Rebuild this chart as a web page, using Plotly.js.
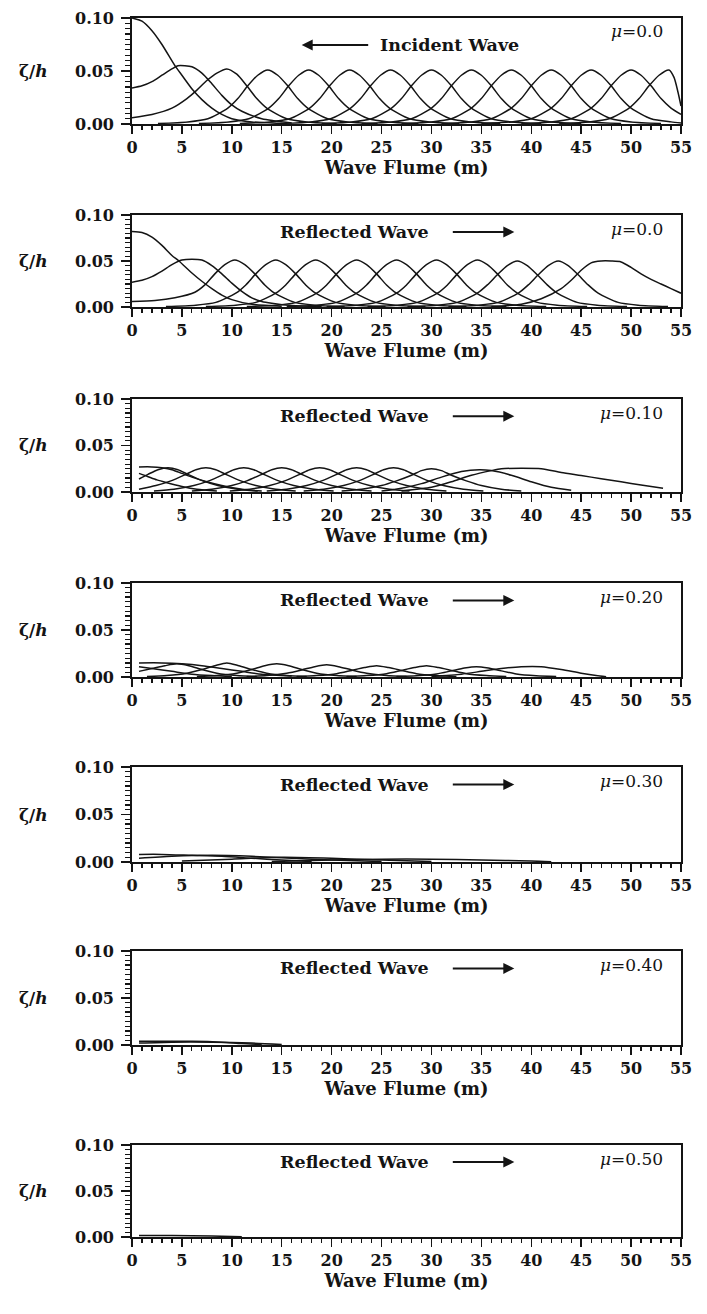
<!DOCTYPE html>
<html>
<head>
<meta charset="utf-8">
<script src="https://cdn.plot.ly/plotly-3.0.1.min.js"></script>
<style>html,body{margin:0;padding:0;background:#fff;}#chart{width:707px;height:1314px;}</style>
</head>
<body>
<div id="chart"></div>
<script>
// ---------- DATA ----------
const xTickValues = [0,5,10,15,20,25,30,35,40,45,50,55];
const yTickLabels = ['0.00','0.05','0.10'];
const muLabels = ['0.0','0.0','0.10','0.20','0.30','0.40','0.50'];
const waveLabels = ['Incident Wave','Reflected Wave','Reflected Wave','Reflected Wave','Reflected Wave','Reflected Wave','Reflected Wave'];

// each curve: [x values (m), zeta/h values]
const incidentMu00 = [
 [[0,1,2,3,4.3,5,6.1,7,8,9,10,12,15],[.100,.097,.088,.075,.055,.046,.032,.023,.015,.009,.005,.002,.0005]],
 [[0,1,2,3,4,4.6,5.3,6,7,8,9,10,11,13,16],[.034,.036,.040,.046,.052,.055,.055,.054,.048,.038,.027,.018,.012,.005,.001]],
 [[0,2,4,5.5,6.5,7.5,8.5,9.5,10.5,11.5,12.5,13.5,15.5,17.5,20.5],[.006,.009,.015,.024,.032,.041,.048,.052,.047,.036,.024,.015,.005,.002,.0005]],
 [[2.6,5.6,7.6,9.6,10.6,11.6,12.6,13.6,14.6,15.6,16.6,17.6,19.6,21.6,24.6],[.0005,.002,.005,.015,.024,.036,.046,.051,.046,.036,.024,.015,.005,.002,.0005]],
 [[6.7,9.7,11.7,13.7,14.7,15.7,16.7,17.7,18.7,19.7,20.7,21.7,23.7,25.7,28.7],[.0005,.002,.005,.015,.024,.036,.046,.051,.046,.036,.024,.015,.005,.002,.0005]],
 [[10.8,13.8,15.8,17.8,18.8,19.8,20.8,21.8,22.8,23.8,24.8,25.8,27.8,29.8,32.8],[.0005,.002,.005,.015,.024,.036,.046,.051,.046,.036,.024,.015,.005,.002,.0005]],
 [[14.9,17.9,19.9,21.9,22.9,23.9,24.9,25.9,26.9,27.9,28.9,29.9,31.9,33.9,36.9],[.0005,.002,.005,.015,.024,.036,.046,.051,.046,.036,.024,.015,.005,.002,.0005]],
 [[19,22,24,26,27,28,29,30,31,32,33,34,36,38,41],[.0005,.002,.005,.015,.024,.036,.046,.051,.046,.036,.024,.015,.005,.002,.0005]],
 [[23,26,28,30,31,32,33,34,35,36,37,38,40,42,45],[.0005,.002,.005,.015,.024,.036,.046,.051,.046,.036,.024,.015,.005,.002,.0005]],
 [[27,30,32,34,35,36,37,38,39,40,41,42,44,46,49],[.0005,.002,.005,.015,.024,.036,.046,.051,.046,.036,.024,.015,.005,.002,.0005]],
 [[31,34,36,38,39,40,41,42,43,44,45,46,48,50,53],[.0005,.002,.005,.015,.024,.036,.046,.051,.046,.036,.024,.015,.005,.002,.0005]],
 [[35,38,40,42,43,44,45,46,47,48,49,50,52,54,55],[.0005,.002,.005,.015,.024,.036,.046,.051,.046,.036,.024,.015,.005,.002,.001]],
 [[39,42,44,46,47,48,49,50,51,52,53,54,55],[.0005,.002,.005,.015,.024,.036,.046,.051,.046,.036,.024,.015,.009]],
 [[42.8,45.8,47.8,49.8,50.8,51.8,52.8,53.8,54.3,54.7,55],[.0005,.002,.005,.015,.024,.036,.046,.051,.044,.030,.017]]
];

const reflectedMu00 = [
 [[0,1,2,3,4,4.7,6,7,8,9,10,12,15],[.082,.081,.076,.067,.056,.050,.037,.028,.020,.013,.008,.003,.0008]],
 [[0,1,2,3,4,5,6,7,8,9,10,11,12,13,14,16,19],[.027,.029,.033,.039,.046,.051,.052,.051,.045,.036,.026,.017,.010,.006,.004,.0015,.0005]],
 [[0,2.3,4.3,6.3,7.3,8.3,9.3,10.3,11.3,12.3,13.3,14.3,16.3,18.3,21.3],[.006,.007,.010,.016,.024,.036,.046,.051,.046,.036,.024,.015,.005,.002,.0005]],
 [[3.4,6.4,8.4,10.4,11.4,12.4,13.4,14.4,15.4,16.4,17.4,18.4,20.4,22.4,25.4],[.0005,.002,.005,.015,.024,.036,.046,.051,.046,.036,.024,.015,.005,.002,.0005]],
 [[7.4,10.4,12.4,14.4,15.4,16.4,17.4,18.4,19.4,20.4,21.4,22.4,24.4,26.4,29.4],[.0005,.002,.005,.015,.024,.036,.046,.051,.046,.036,.024,.015,.005,.002,.0005]],
 [[11.5,14.5,16.5,18.5,19.5,20.5,21.5,22.5,23.5,24.5,25.5,26.5,28.5,30.5,33.5],[.0005,.002,.005,.015,.024,.036,.046,.051,.046,.036,.024,.015,.005,.002,.0005]],
 [[15.5,18.5,20.5,22.5,23.5,24.5,25.5,26.5,27.5,28.5,29.5,30.5,32.5,34.5,37.5],[.0005,.002,.005,.015,.024,.036,.046,.051,.046,.036,.024,.015,.005,.002,.0005]],
 [[19.5,22.5,24.5,26.5,27.5,28.5,29.5,30.5,31.5,32.5,33.5,34.5,36.5,38.5,41.5],[.0005,.002,.005,.015,.024,.036,.046,.051,.046,.036,.024,.015,.005,.002,.0005]],
 [[23.6,26.6,28.6,30.6,31.6,32.6,33.6,34.6,35.6,36.6,37.6,38.6,40.6,42.6,45.6],[.0005,.002,.005,.015,.024,.036,.046,.051,.046,.036,.024,.015,.005,.002,.0005]],
 [[27.6,30.6,32.6,34.6,35.6,36.6,37.6,38.6,39.6,40.6,41.6,42.6,44.6,46.6,49.6],[.0005,.002,.005,.015,.024,.035,.045,.050,.045,.035,.024,.015,.005,.002,.0005]],
 [[31.7,34.7,36.7,38.7,39.7,40.7,41.7,42.7,43.7,44.7,45.7,46.7,48.7,50.7,53.7],[.0005,.002,.005,.015,.024,.035,.045,.050,.045,.035,.024,.015,.005,.002,.0005]],
 [[36,39,41,43,44,45,46,47,48,49,50,51,52,53,54,55],[.0005,.003,.009,.020,.029,.040,.048,.050,.050,.049,.043,.036,.030,.025,.020,.015]]
];

const reflectedMu10 = [
 [[0.7,2,3,4,5,6,7.5,9,11,13],[.027,.027,.026,.024,.020,.016,.011,.007,.003,.001]],
 [[0.7,1.5,2.5,3.5,5,6.5,8.5],[.020,.017,.013,.010,.006,.003,.001]],
 [[0.7,1.6,2.6,3.6,4.6,5.6,7.1,8.6,10.6,12.6],[.014,.019,.024,.026,.024,.019,.012,.007,.003,.001]],
 [[0.7,2.4,3.9,5.4,6.4,7.4,8.4,9.4,10.9,12.4,14.4,16.4],[.003,.007,.012,.019,.024,.026,.024,.019,.012,.007,.003,.001]],
 [[2.2,4.2,6.2,7.7,9.2,10.2,11.2,12.2,13.2,14.7,16.2,18.2,20.2],[.001,.003,.007,.012,.019,.024,.026,.024,.019,.012,.007,.003,.001]],
 [[6,8,10,11.5,13,14,15,16,17,18.5,20,22,24],[.001,.003,.007,.012,.019,.024,.026,.024,.019,.012,.007,.003,.001]],
 [[9.8,11.8,13.8,15.3,16.8,17.8,18.8,19.8,20.8,22.3,23.8,25.8,27.8],[.001,.003,.007,.012,.019,.024,.026,.024,.019,.012,.007,.003,.001]],
 [[13.5,15.5,17.5,19,20.5,21.5,22.5,23.5,24.5,26,27.5,29.5,31.5],[.001,.003,.007,.012,.019,.024,.026,.024,.019,.012,.007,.003,.001]],
 [[17.2,19.2,21.2,22.7,24.2,25.2,26.2,27.2,28.2,29.7,31.2,33.2,35.2],[.001,.003,.007,.012,.019,.024,.026,.024,.019,.012,.007,.003,.001]],
 [[21,23,25,26.5,28,29,30,31,32,33.5,35,37,39],[.001,.003,.007,.012,.018,.023,.025,.023,.018,.012,.007,.003,.001]],
 [[25,27,29,31,33,34.8,36,38,40,42,44],[.001,.004,.009,.016,.022,.024,.023,.018,.011,.005,.002]],
 [[27,30,32,34,36,37,39,41,43,45,47,49,51,53.2],[.001,.005,.011,.018,.023,.025,.0255,.025,.021,.0177,.0143,.011,.0075,.004]]
];

const reflectedMu20 = [
 [[0.7,3,5,7,9,11,13,16],[.015,.015,.014,.012,.009,.006,.003,.001]],
 [[0.7,2,4,6,8,10],[.011,.009,.006,.003,.0015,.0005]],
 [[0.7,2,3.3,4.5,5.7,7,8.5,10.5,12.5],[.006,.009,.012,.014,.012,.008,.004,.0015,.0005]],
 [[1.5,3.5,5.5,7,8.3,9.5,10.7,12,13.5,15.5,17.5],[.0005,.0015,.004,.008,.012,.015,.012,.008,.004,.0015,.0005]],
 [[6.5,8.5,10.5,12,13.3,14.5,15.7,17,18.5,20.5,22.5],[.0005,.0015,.004,.008,.012,.014,.012,.008,.004,.0015,.0005]],
 [[11.5,13.5,15.5,17,18.3,19.5,20.7,22,23.5,25.5,27.5],[.0005,.0015,.004,.0075,.011,.013,.011,.0075,.004,.0015,.0005]],
 [[16.5,18.5,20.5,22,23.3,24.5,25.7,27,28.5,30.5,32.5],[.0005,.0015,.0035,.007,.010,.012,.010,.007,.0035,.0015,.0005]],
 [[21.5,23.5,25.5,27,28.3,29.5,30.7,32,33.5,35.5,37.5],[.0005,.0015,.0035,.007,.010,.012,.010,.007,.0035,.0015,.0005]],
 [[26.5,28.5,30.5,32,33.3,34.5,35.7,37,38.5,40.5,42.5],[.0005,.0013,.0032,.0065,.0095,.011,.0095,.0065,.0032,.0013,.0005]],
 [[30,33,35,37,39,41,43,45,46.5,47.5],[.0005,.003,.006,.009,.011,.011,.008,.004,.0015,.0003]]
];

const reflectedMu30 = [
 [[0.7,3,6,9,12,15,18],[.008,.008,.007,.006,.004,.002,.0005]],
 [[0.7,4,8,12,16,20,25],[.004,.006,.007,.006,.004,.002,.0005]],
 [[5,10,15,20,25,30],[.001,.003,.005,.004,.002,.0005]],
 [[14,20,25,30,35,40,42],[.0005,.002,.003,.003,.002,.001,.0002]]
];

const reflectedMu40 = [
 [[0.7,3,6,9,11,13],[.004,.004,.004,.003,.0015,.0005]],
 [[0.7,4,8,12,15],[.002,.003,.003,.002,.0005]]
];

const reflectedMu50 = [
 [[0.7,4,8,11],[.0015,.0015,.001,.0003]]
];

const panels = [incidentMu00, reflectedMu00, reflectedMu10, reflectedMu20, reflectedMu30, reflectedMu40, reflectedMu50];

// ---------- LAYOUT ----------
const H = 1314, W = 707;
const plotTopPx    = [18, 215, 399, 583, 767, 951, 1145];
const plotBottomPx = [124, 307, 492, 677, 862, 1045, 1237];
const xLeftPx = 132, xRightPx = 681;
const ink = '#141414';
const serif = 'DejaVu Serif, Liberation Serif, serif';

const traces = [];
const layout = {
  width: W, height: H,
  margin: {l:0, r:0, t:0, b:0},
  paper_bgcolor: '#fff', plot_bgcolor: '#fff',
  showlegend: false,
  annotations: [],
  font: {family: serif, color: ink}
};

panels.forEach((curves, i) => {
  const n = i + 1;
  const xa = n === 1 ? 'x' : 'x' + n;
  const ya = n === 1 ? 'y' : 'y' + n;
  curves.forEach(c => {
    traces.push({
      type: 'scatter', mode: 'lines',
      x: c[0], y: c[1],
      xaxis: xa, yaxis: ya,
      line: {color: ink, width: 1.5, shape: 'spline', smoothing: 0.7},
      hoverinfo: 'skip'
    });
  });
  const yDomain = [1 - plotBottomPx[i] / H, 1 - plotTopPx[i] / H];
  layout['xaxis' + (n === 1 ? '' : n)] = {
    domain: [xLeftPx / W, xRightPx / W],
    range: [0, 55], anchor: ya,
    tickmode: 'array', tickvals: xTickValues,
    ticks: 'outside', ticklen: 8, tickwidth: 1.5, tickcolor: ink,
    minor: {dtick: 1, tick0: 0, ticks: 'outside', ticklen: 4, tickwidth: 1.2, tickcolor: ink},
    showline: true, mirror: true, linecolor: ink, linewidth: 1.8,
    showgrid: false, zeroline: false, fixedrange: true,
    tickfont: {family: serif, size: 16, color: ink, weight: 'bold'},
    title: {text: 'Wave Flume (m)', standoff: 3, font: {family: serif, size: 18, color: ink, weight: 'bold'}}
  };
  layout['yaxis' + (n === 1 ? '' : n)] = {
    domain: yDomain,
    range: [0, 0.1], anchor: xa,
    tickmode: 'array', tickvals: [0, 0.05, 0.1], ticktext: yTickLabels,
    ticks: 'outside', ticklen: 9, tickwidth: 1.5, tickcolor: ink,
    minor: {dtick: 0.005, tick0: 0, ticks: 'outside', ticklen: 5, tickwidth: 1.2, tickcolor: ink},
    showline: true, mirror: true, linecolor: ink, linewidth: 1.8,
    showgrid: false, zeroline: false, fixedrange: true,
    ticklabelstandoff: 4,
    tickfont: {family: serif, size: 16, color: ink, weight: 'bold'}
  };
  // y label
  layout.annotations.push({
    xref: 'paper', yref: ya, x: 33 / W, y: 0.05, xanchor: 'center', yanchor: 'middle',
    text: 'ζ/<i>h</i>', showarrow: false,
    font: {family: serif, size: 17, color: ink, weight: 'bold'}
  });
  // mu label
  layout.annotations.push({
    xref: xa, yref: ya, x: 53.4, y: (i === 0 ? 0.088 : 0.085), xanchor: 'right', yanchor: 'middle',
    text: '<i>μ</i>=' + muLabels[i], showarrow: false,
    font: {family: serif, size: 17, color: ink}
  });
  if (i === 0) {
    layout.annotations.push({
      xref: xa, yref: ya, x: 31.8, y: 0.0745, xanchor: 'center', yanchor: 'middle',
      text: waveLabels[i], showarrow: false,
      font: {family: serif, size: 17.5, color: ink, weight: 'bold'}
    });
    layout.annotations.push({
      xref: xa, yref: ya, x: 17.0, y: 0.0745, ax: 68, ay: 0,
      text: '', showarrow: true, arrowhead: 2, arrowsize: 1.1, arrowwidth: 2, arrowcolor: ink
    });
  } else {
    layout.annotations.push({
      xref: xa, yref: ya, x: 22.3, y: 0.0815, xanchor: 'center', yanchor: 'middle',
      text: waveLabels[i], showarrow: false,
      font: {family: serif, size: 17.5, color: ink, weight: 'bold'}
    });
    layout.annotations.push({
      xref: xa, yref: ya, x: 38.3, y: 0.0815, ax: -63, ay: 0,
      text: '', showarrow: true, arrowhead: 2, arrowsize: 1.1, arrowwidth: 2, arrowcolor: ink
    });
  }
});

Plotly.newPlot('chart', traces, layout, {staticPlot: true, displayModeBar: false});
</script>
</body>
</html>
